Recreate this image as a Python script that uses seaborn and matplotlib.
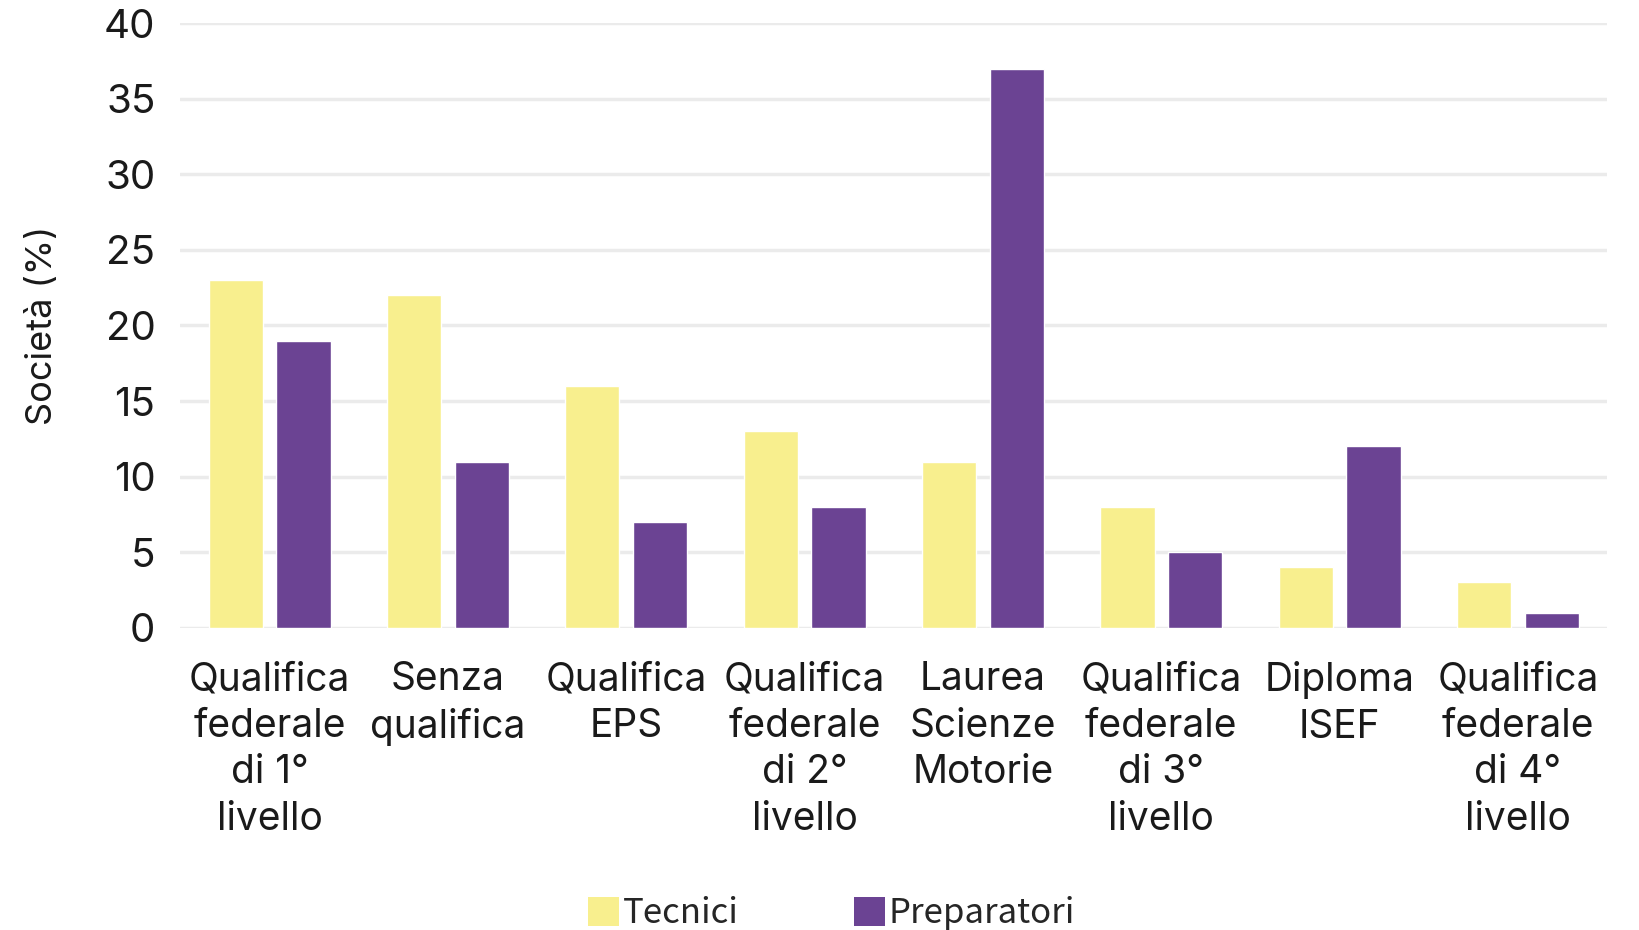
import pandas as pd
import seaborn as sns
import matplotlib.pyplot as plt
from matplotlib.patches import Patch

# Data
categorie = [
    "Qualifica\nfederale\ndi 1°\nlivello",
    "Senza\nqualifica",
    "Qualifica\nEPS",
    "Qualifica\nfederale\ndi 2°\nlivello",
    "Laurea\nScienze\nMotorie",
    "Qualifica\nfederale\ndi 3°\nlivello",
    "Diploma\nISEF",
    "Qualifica\nfederale\ndi 4°\nlivello",
]
tecnici = [23, 22, 16, 13, 11, 8, 4, 3]
preparatori = [19, 11, 7, 8, 37, 5, 12, 1]
serie = ["Tecnici", "Preparatori"]
colori = {"Tecnici": "#F8EF8E", "Preparatori": "#6B4393"}

df = pd.DataFrame({
    "categoria": categorie * 2,
    "valore": tecnici + preparatori,
    "serie": [serie[0]] * len(categorie) + [serie[1]] * len(categorie),
})

sns.set_style("white")
plt.rcParams["font.family"] = ["Inter", "DejaVu Sans"]

fig = plt.figure(figsize=(16.4, 9.3), dpi=100)
ax = fig.add_axes([0.110, 0.325, 0.870, 0.650])

sns.barplot(data=df, x="categoria", y="valore", hue="serie", order=categorie,
            hue_order=serie, palette=colori, width=0.76, gap=0.2,
            saturation=1, errorbar=None, ax=ax, legend=False, zorder=3)

ax.set_ylim(0, 40)
ax.set_xlim(-0.5, len(categorie) - 0.5)
ax.set_yticks(range(0, 41, 5))
ax.grid(axis="y", color="#EBEBEB", linewidth=2.5, zorder=0)
ax.grid(axis="x", visible=False)
for s in ax.spines.values():
    s.set_visible(False)
ax.tick_params(axis="y", length=0, pad=18, labelsize=29, labelcolor="#1a1a1a")
ax.tick_params(axis="x", length=0, pad=24, labelsize=28, labelcolor="#1a1a1a")
for t in ax.get_xticklabels():
    t.set_linespacing(1.33)
ax.set_xlabel("")
ax.set_ylabel("Società (%)", fontsize=26, labelpad=32, color="#1a1a1a")

handles = [Patch(facecolor=colori[s], edgecolor="none") for s in serie]
fig.legend(handles, serie, loc="lower center", bbox_to_anchor=(0.507, -0.035),
           ncol=2, frameon=False, handlelength=0.9, handleheight=0.9,
           handletextpad=0.12, columnspacing=3.3,
           prop={"family": ["Noto Sans CJK JP", "DejaVu Sans"], "size": 25})

fig.savefig("out.png", dpi=100, facecolor="white")
